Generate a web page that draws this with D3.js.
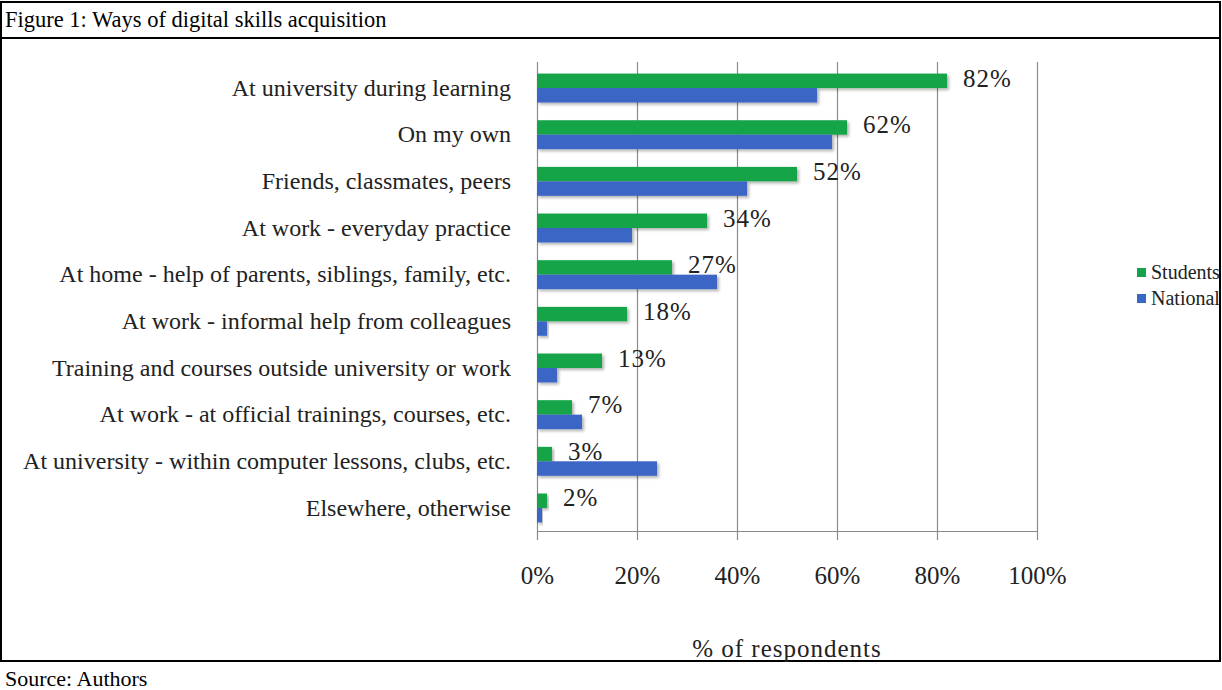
<!DOCTYPE html>
<html>
<head>
<meta charset="utf-8">
<script src="https://cdn.jsdelivr.net/npm/d3@7"></script>
<style>
  body { margin: 0; background: #fff; }
  svg { display: block; font-family: "Liberation Serif", "Times New Roman", serif; }
  svg text { font-family: "Liberation Serif", "Times New Roman", serif; }
</style>
</head>
<body>
<svg width="1222" height="690"></svg>
<script>
// Chart values
const categories = [
    "At university during learning",
    "On my own",
    "Friends, classmates, peers",
    "At work - everyday practice",
    "At home - help of parents, siblings, family, etc.",
    "At work - informal help from colleagues",
    "Training and courses outside university or work",
    "At work - at official  trainings, courses, etc.",
    "At university - within computer lessons, clubs, etc.",
    "Elsewhere, otherwise"
];
const students = [82, 62, 52, 34, 27, 18, 13, 7, 3, 2];
const national = [56, 59, 42, 19, 36, 2, 4, 9, 24, 1];
const seriesNames = ["Students", "National"];
const xTicks = [0, 20, 40, 60, 80, 100];

const colors = { Students: "#13a449", National: "#3a66c6" };

const svg = d3.select("svg");

// frame of the figure table
svg.append("rect")
    .attr("x", 1).attr("y", 2)
    .attr("width", 1219).attr("height", 659)
    .attr("fill", "none").attr("stroke", "#000").attr("stroke-width", 2);
svg.append("line")
    .attr("x1", 1).attr("x2", 1220).attr("y1", 38).attr("y2", 38)
    .attr("stroke", "#000").attr("stroke-width", 2);

svg.append("text")
    .attr("x", 5).attr("y", 27)
    .style("font-size", "22.5px")
    .text("Figure 1: Ways of digital skills acquisition");

svg.append("text")
    .attr("x", 5).attr("y", 686)
    .style("font-size", "22px")
    .text("Source: Authors");

// drop shadow like the Excel bars
const defs = svg.append("defs");
defs.append("filter").attr("id", "shadow")
    .attr("x", "-10%").attr("y", "-40%").attr("width", "130%").attr("height", "200%")
    .append("feDropShadow")
    .attr("dx", 2).attr("dy", 2).attr("stdDeviation", 1.5)
    .attr("flood-color", "#000").attr("flood-opacity", 0.3);

// scales
const x = d3.scaleLinear().domain([0, 100]).range([537, 1037]);

const y0 = d3.scaleBand()
    .domain(categories)
    .range([64.7, 531.3])
    .paddingInner(0.38)
    .paddingOuter(0.19);

const y1 = d3.scaleBand()
    .domain(seriesNames)
    .range([0, y0.bandwidth()]);

const rows = categories.map((c, i) => ({ cat: c, Students: students[i], National: national[i] }));

// gridlines (run a little below the axis, like Excel tick marks)
svg.append("g")
    .selectAll("line")
    .data(xTicks)
    .enter().append("line")
    .attr("x1", d => x(d) + 0.5).attr("x2", d => x(d) + 0.5)
    .attr("y1", 62).attr("y2", 540)
    .attr("stroke", "#8a8a8a").attr("stroke-width", 1.2);

// bottom axis
const xAxis = svg.append("g")
    .attr("transform", "translate(0,531)")
    .call(d3.axisBottom(x).tickValues(xTicks).tickFormat(d => d + "%").tickSize(0).tickPadding(35));
xAxis.attr("font-family", null).attr("font-size", null);
xAxis.select(".domain").attr("stroke", "#8a8a8a").attr("stroke-width", 1.2);
xAxis.selectAll("text")
    .style("font-size", "25px")
    .attr("fill", "#222");

// left axis
const yAxis = svg.append("g")
    .attr("transform", "translate(537,0)")
    .call(d3.axisLeft(y0).tickSize(0).tickPadding(26));
yAxis.attr("font-family", null).attr("font-size", null);
yAxis.select(".domain").remove();
yAxis.selectAll("text")
    .style("font-size", "24px")
    .attr("fill", "#222");

// bars
const groups = svg.append("g")
    .selectAll("g")
    .data(rows)
    .enter().append("g")
    .attr("transform", d => `translate(0,${y0(d.cat)})`);

groups.selectAll("rect")
    .data(d => seriesNames.map(s => ({ key: s, value: d[s] })))
    .enter().append("rect")
    .attr("x", x(0))
    .attr("y", d => y1(d.key))
    .attr("width", d => x(d.value) - x(0))
    .attr("height", y1.bandwidth())
    .attr("fill", d => colors[d.key])
    .attr("filter", "url(#shadow)");

// data labels for students
groups.append("text")
    .attr("x", d => x(d.Students) + 16)
    .attr("y", y1("Students") + y1.bandwidth() / 2 - 3)
    .attr("dy", "0.35em")
    .style("font-size", "25px")
    .style("letter-spacing", "1px")
    .attr("fill", "#222")
    .text(d => d.Students + "%");

// axis title
svg.append("text")
    .attr("x", x(50))
    .attr("y", 657)
    .attr("text-anchor", "middle")
    .style("font-size", "25px")
    .style("letter-spacing", "1px")
    .attr("fill", "#222")
    .text("% of respondents");

// legend
const legend = svg.append("g")
    .selectAll("g")
    .data(seriesNames)
    .enter().append("g")
    .attr("transform", (d, i) => `translate(1137,${272 + i * 26})`);
legend.append("rect")
    .attr("x", 0).attr("y", -4)
    .attr("width", 9).attr("height", 9)
    .attr("fill", d => colors[d]);
legend.append("text")
    .attr("x", 14).attr("y", 0)
    .attr("dy", "0.35em")
    .style("font-size", "20px")
    .attr("fill", "#222")
    .text(d => d);
</script>
</body>
</html>
